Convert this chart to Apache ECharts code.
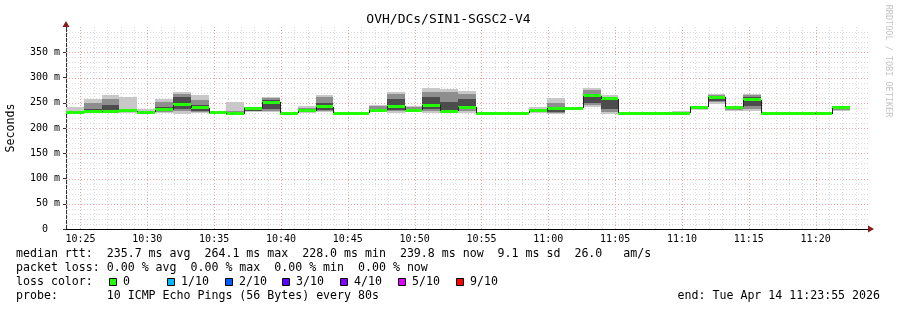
<!DOCTYPE html>
<html><head><meta charset="utf-8">
<script src="https://cdn.jsdelivr.net/npm/echarts@6/dist/echarts.min.js"></script>
<style>html,body{margin:0;padding:0;background:#fff}#c{width:897px;height:310px}</style>
</head><body><div id="c"></div>
<script>
// ---------------- data ----------------
const chartTitle = 'OVH/DCs/SIN1-SGSC2-V4';
const axisStart = '10:23:55';
const axisEnd = '11:23:55';
const stepStart = ['10:23:55','10:25:15','10:26:35','10:27:55','10:29:15','10:30:35','10:31:55','10:33:15','10:34:35','10:35:55',
  '10:37:15','10:38:35','10:39:55','10:41:15','10:42:35','10:43:55','10:45:15','10:46:35','10:47:55','10:49:15',
  '10:50:35','10:51:55','10:53:15','10:54:35','10:55:55','10:57:15','10:58:35','10:59:55','11:01:15','11:02:35',
  '11:03:55','11:05:15','11:06:35','11:07:55','11:09:15','11:10:35','11:11:55','11:13:15','11:14:35','11:15:55',
  '11:17:15','11:18:35','11:19:55','11:21:15'];
const lastStepEnd = '11:22:35';
// median rtt per step (ms)
const median = [230.8,232.0,233.3,234.0,230.8,236.0,245.8,240.0,230.0,228.0,
  239.0,251.0,228.8,234.0,242.0,228.8,228.8,234.7,243.0,235.0,
  245.0,232.9,241.0,228.8,228.8,228.8,234.0,239.0,239.0,264.1,
  257.7,228.8,228.8,228.8,228.8,240.6,260.4,240.6,256.4,228.8,
  228.8,228.8,228.0,239.8];
// smoke: outer (lightest), middle, core (darkest) ranges per step (ms)
const smokeLo = [228.5,229,229.5,229.5,229,230,228,229,229,226.5, 232,231,228.8,230,231,228.8,228.8,231,230,231,
  230,229,230,228.8,228.8,228.8,230,228,237,241, 228,228.8,228.8,228.8,228.5,236,248,233,233,228.8, 228.8,228.8,228,233];
const smokeHi = [241,258,265.5,261,238,257,271,266,233,251, 240,261,228.8,243,265.5,228.8,228.8,246,271,243,
  279,277.5,273,228.8,228.8,228.8,241,260,240.5,279.5, 266,228.8,228.8,228.8,233,243,267.5,243,267.5,228.8, 228.8,228.8,228,242];
const midLo = [229.5,230,231,231,229.5,232,233,232,229.5,227, 233,234,228.8,231,234,228.8,228.8,232,233,232,
  234,230,234,228.8,228.8,228.8,231,230,238,246, 232,228.8,228.8,228.8,228.8,237,251,235,238,228.8, 228.8,228.8,228,235];
const midHi = [234,249,257,236,233,252,267,256,231,233, 239.5,259,228.8,240,262,228.8,228.8,244,268,241,
  272,271,268,228.8,228.8,228.8,238,250,240,276, 262,228.8,228.8,228.8,229,242,266,242,266,228.8, 228.8,228.8,228,241];
const coreLo = [230,231,232,232,230,233,238,234,230,227.5, 234,238,228.8,232,236,228.8,228.8,233,236,233,
  238,231,237,228.8,228.8,228.8,232,232,238.5,250, 238,228.8,228.8,228.8,228.8,238,254,237,244,228.8, 228.8,228.8,228,237];
const coreHi = [232,238,245,235,232,242,261,246,230.5,229, 239,255,228.8,236,250,228.8,228.8,238,258,238,
  262,252,258,228.8,228.8,228.8,236,242,239.5,268, 259,228.8,228.8,228.8,228.8,241,263,241,261,228.8, 228.8,228.8,228,240];
const xMajorLabels = ['10:25','10:30','10:35','10:40','10:45','10:50','10:55','11:00','11:05','11:10','11:15','11:20'];
const yMin = 0, yMax = 400, yInterval = 50;
const lossLabels = ['0','1/10','2/10','3/10','4/10','5/10','9/10'];
const lossColors = ['#22ff00','#00b8ff','#0059ff','#5e00ff','#7e00ff','#dd00ff','#ff0000'];
const legendRtt = 'median rtt:  235.7 ms avg  264.1 ms max  228.0 ms min  239.8 ms now  9.1 ms sd  26.0   am/s';
const legendLoss = 'packet loss: 0.00 % avg  0.00 % max  0.00 % min  0.00 % now';
const legendColor = 'loss color:';
const legendProbe = 'probe:       10 ICMP Echo Pings (56 Bytes) every 80s';
const legendEnd = 'end: Tue Apr 14 11:23:55 2026';
const watermark = 'RRDTOOL / TOBI OETIKER';
const yName = 'Seconds';

// ---------------- helpers ----------------
const toSec = s => { const p = s.split(':').map(Number); return p[0]*3600 + p[1]*60 + (p[2]||0); };
const pad = n => String(n).padStart(2,'0');
const fmtHM = v => pad(Math.floor(v/3600)) + ':' + pad(Math.floor((v%3600)/60));
const MONO = '"DejaVu Sans Mono", monospace';
const xMin = toSec(axisStart), xMax = toSec(axisEnd);
const starts = stepStart.map(toSec);
const ends = starts.slice(1).concat([toSec(lastStepEnd)]);
const smokeData = starts.map((t,i)=>[t, ends[i], smokeLo[i], smokeHi[i], midLo[i], midHi[i], coreLo[i], coreHi[i]]);
const medData = starts.map((t,i)=>[t, ends[i], median[i], i>0 ? median[i-1] : median[i]]);
const xGrid = []; for (let m = Math.ceil(xMin/60)*60; m < xMax; m += 60) xGrid.push([m, m % 300 === 0 ? 1 : 0]);
const yGrid = []; for (let v = 10; v < yMax; v += 10) yGrid.push([v, v % yInterval === 0 ? 1 : 0]);
const MAJOR = '#f0a0a0', MINOR = '#d9d9d9';
const BAND = 3; // half thickness of median band in ms

const chart = echarts.init(document.getElementById('c'), null, {renderer:'canvas'});
const graphics = [];
const txt = (text, x, y, extra) => graphics.push(Object.assign({type:'text', x, y, z:100,
  style:{text, font:'11.6px ' + MONO, fill:'#000', align:'left', verticalAlign:'middle'}}, extra||{}));
txt(legendRtt, 16, 254);
txt(legendLoss, 16, 268);
txt(legendColor, 16, 282);
txt(legendProbe, 16, 296);
graphics.push({type:'text', x:880, y:296, z:100, style:{text:legendEnd, font:'11.6px ' + MONO, fill:'#000', align:'right', verticalAlign:'middle'}});
lossLabels.forEach((l,i)=>{
  const bx = 109 + Math.round(i*57.8);
  graphics.push({type:'rect', z:100, shape:{x:bx+0.5, y:278.5, width:7, height:7}, style:{fill:lossColors[i], stroke:'#000', lineWidth:1}});
  txt(l, bx + 14, 282);
});
graphics.push({type:'text', x:888, y:61, z:100, rotation:-Math.PI/2,
  style:{text:watermark, font:'8.5px ' + MONO, fill:'#c4c4c4', align:'center', verticalAlign:'middle'}});
graphics.push({type:'polygon', z:100, shape:{points:[[62.5,27],[69.5,27],[66,21]]}, style:{fill:'#8b1a1a'}});
graphics.push({type:'polygon', z:100, shape:{points:[[868,225.5],[868,232.5],[874,229]]}, style:{fill:'#8b1a1a'}});

chart.setOption({
  animation:false,
  backgroundColor:'#fff',
  title:{text:chartTitle, left:'center', top:13, padding:0,
    textStyle:{fontFamily:MONO, fontSize:13, fontWeight:'normal', color:'#000'}},
  grid:{left:66, right:29, top:27, bottom:81, containLabel:false, outerBoundsMode:'none'},
  xAxis:{type:'value', min:xMin, max:xMax,
    axisLine:{show:true, onZero:false, lineStyle:{color:'#000', width:1}},
    axisTick:{show:false},
    axisLabel:{customValues: xMajorLabels.map(toSec), formatter:v=>fmtHM(v),
      fontFamily:MONO, fontSize:10, color:'#000', margin:5},
    splitLine:{show:false}},
  yAxis:{type:'value', min:yMin, max:yMax, interval:yInterval,
    name:yName, nameLocation:'middle', nameGap:49, nameRotate:90,
    nameTextStyle:{fontFamily:MONO, fontSize:11.6, color:'#000'},
    axisLine:{show:true, lineStyle:{color:'#333', width:1}},
    axisTick:{show:true, length:3, lineStyle:{color:'#333'}},
    axisLabel:{showMaxLabel:false, formatter:v=> v===0 ? '0  ' : v + ' m',
      fontFamily:MONO, fontSize:10, color:'#000', margin:6},
    splitLine:{show:false}},
  series:[
    {type:'custom', name:'xgrid', z:1, silent:true, data:xGrid, encode:{x:0},
      renderItem:(params, api)=>{
        const cs = params.coordSys;
        const x = Math.round(api.coord([api.value(0), 0])[0]) + 0.5;
        return {type:'line', shape:{x1:x, y1:cs.y, x2:x, y2:cs.y+cs.height},
          style:{stroke: api.value(1) ? MAJOR : MINOR, lineWidth:1, lineDash:[1,2]}};
      }},
    {type:'custom', name:'ygrid', z:1, silent:true, data:yGrid, encode:{y:0},
      renderItem:(params, api)=>{
        const cs = params.coordSys;
        const y = Math.round(api.coord([xMin, api.value(0)])[1]) + 0.5;
        return {type:'line', shape:{x1:cs.x, y1:y, x2:cs.x+cs.width, y2:y},
          style:{stroke: api.value(1) ? MAJOR : MINOR, lineWidth:1, lineDash:[1,2]}};
      }},
    {type:'custom', name:'smoke', z:2, silent:true, data:smokeData, encode:{x:[0,1], y:[2,3,4,5,6,7]},
      renderItem:(params, api)=>{
        const t0 = api.value(0), t1 = api.value(1);
        const layers = [[2,3,'#c8c8c8'],[4,5,'#8e8e8e'],[6,7,'#4c4c4c']];
        return {type:'group', children: layers.map(([a,b,c])=>{
          const p0 = api.coord([t0, api.value(b)]);
          const p1 = api.coord([t1, api.value(a)]);
          const x0 = Math.round(p0[0]), x1 = Math.round(p1[0]);
          const y0 = Math.round(p0[1]), y1 = Math.round(p1[1]);
          return {type:'rect', shape:{x:x0, y:y0, width:x1-x0, height:y1-y0}, style:{fill:c}};
        })};
      }},
    {type:'custom', name:'median', z:3, silent:true, data:medData, encode:{x:[0,1], y:[2,3]},
      renderItem:(params, api)=>{
        const t0 = api.value(0), t1 = api.value(1), m = api.value(2), pm = api.value(3);
        const a = api.coord([t0, m + BAND]), b = api.coord([t1, m - BAND]);
        const x0 = Math.round(a[0]), x1 = Math.round(b[0]);
        const cy = api.coord([t0, m])[1], py = api.coord([t0, pm])[1];
        return {type:'group', children:[
          {type:'line', shape:{x1:x0, y1:Math.round(cy)+0.5, x2:x1, y2:Math.round(cy)+0.5}, style:{stroke:'#202020', lineWidth:1}},
          {type:'rect', shape:{x:x0, y:Math.round(a[1]), width:x1-x0, height:Math.round(b[1])-Math.round(a[1])}, style:{fill:'#22ff00'}},
          {type:'line', shape:{x1:x0+0.5, y1:Math.round(py), x2:x0+0.5, y2:Math.round(cy)}, style:{stroke:'#202020', lineWidth:1}}
        ]};
      }}
  ],
  graphic:graphics
});
</script></body></html>
